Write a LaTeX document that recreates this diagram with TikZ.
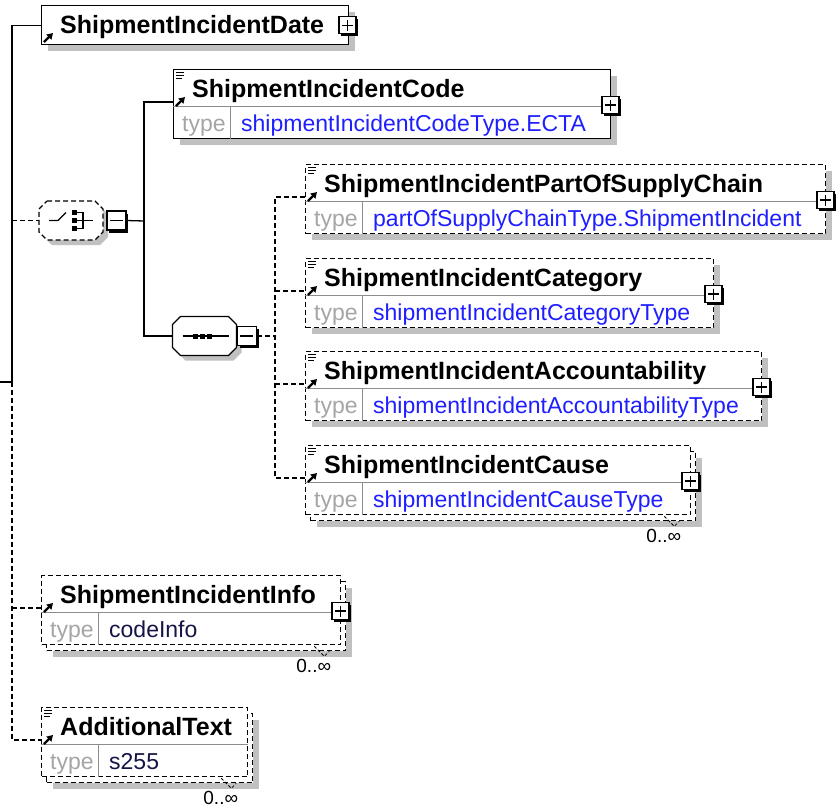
\documentclass[tikz,border=0pt]{standalone}
\usepackage{fontspec}
\setmainfont{Liberation Sans}
\usetikzlibrary{positioning,arrows.meta,shadows}

\definecolor{shadowgray}{RGB}{192,192,192}
\definecolor{typegray}{RGB}{165,165,165}
\definecolor{rulegray}{RGB}{140,140,140}
\definecolor{typeblue}{RGB}{30,30,255}
\definecolor{typenavy}{RGB}{20,20,70}

\tikzset{
  elbox/.style={draw,line width=1.3pt,fill=white,anchor=north west,inner sep=0pt,minimum height=69pt},
  shaded/.style={drop shadow={shadow xshift=6pt,shadow yshift=-6pt,fill=shadowgray,opacity=1}},
  optional/.style={dash pattern=on 5pt off 3pt},
  eltitle/.style={font=\bfseries\fontsize{25}{30}\selectfont,anchor=base west,inner sep=0pt},
  typelbl/.style={font=\fontsize{23}{28}\selectfont,text=typegray,anchor=base west,inner sep=0pt},
  typeval/.style={font=\fontsize{23}{28}\selectfont,anchor=base west,inner sep=0pt},
  rowline/.style={draw=rulegray,line width=1pt},
  link/.style={line width=1.3pt},
  icon/.style={line width=1.2pt},
  tick/.style={line width=0.8pt,dash pattern=on 3pt off 2pt},
  mult/.style={font=\fontsize{19}{23}\selectfont,anchor=north east,inner sep=0pt},
  octo/.style={rectangle,inner sep=0pt,minimum width=64pt,minimum height=39pt},
  pmframe/.style={draw,line width=1.5pt,fill=white,inner sep=0pt,
    drop shadow={shadow xshift=2.5pt,shadow yshift=-2.5pt,fill=black,opacity=1}},
  plusbox/.style={pmframe,minimum size=17pt,
    path picture={\draw[line width=1.3pt]
      ([xshift=3pt]path picture bounding box.west) -- ([xshift=-3pt]path picture bounding box.east)
      ([yshift=-3pt]path picture bounding box.north) -- ([yshift=3pt]path picture bounding box.south);}},
  minusbox/.style={pmframe,minimum size=19pt,
    path picture={\draw[line width=1.3pt]
      ([xshift=3pt]path picture bounding box.west) -- ([xshift=-3pt]path picture bounding box.east);}},
  octagon/.pic={
    \fill[shadowgray,solid] (-19,-14.5) -- (29,-14.5) -- (37,-6.5) -- (37,16.5) -- (29,24.5)
      -- (-19,24.5) -- (-27,16.5) -- cycle;
    \draw[line width=1.3pt,fill=white] (-24,-19.5) -- (24,-19.5) -- (32,-11.5) -- (32,11.5)
      -- (24,19.5) -- (-24,19.5) -- (-32,11.5) -- (-32,-11.5) -- cycle;},
  docmark/.pic={\draw[line width=0.9pt] (3,3) -- (11,3) (3,6) -- (11,6) (3,9) -- (9,9);},
  refmark/.pic={\draw[line width=2.4pt,-{Triangle[length=6pt,width=7pt]}] (3,37) -- (12,28);}
}

\begin{document}
\begin{tikzpicture}[x=1pt,y=-1pt]
\useasboundingbox (0,0) rectangle (837,809);

% element boxes
\node[elbox,shaded,minimum width=307pt,minimum height=39pt] (date) at (41,5) {};
\node[elbox,shaded,minimum width=437pt] (code) at (173,69) {};
\node[elbox,optional,shaded,minimum width=520pt] (part) at (305,164) {};
\node[elbox,optional,shaded,minimum width=408pt] (cat) at (305,258) {};
\node[elbox,optional,shaded,minimum width=456pt] (acc) at (305,351) {};
\node[elbox,optional,shaded,minimum width=385pt] (causeB) at (310,451) {};
\node[elbox,optional,minimum width=385pt] (cause) at (305,445) {};
\node[elbox,optional,shaded,minimum width=299pt] (infoB) at (46,581) {};
\node[elbox,optional,minimum width=299pt] (info) at (41,575) {};
\node[elbox,optional,shaded,minimum width=206pt] (addtextB) at (46,713) {};
\node[elbox,optional,minimum width=206pt] (addtext) at (41,707) {};

\node[eltitle] (date-title) at ([shift={(19,28)}]date.north west) {ShipmentIncidentDate};
\pic at (date.north west) {refmark};

% name and type rows
\foreach \nm/\ttl/\typ/\tcol in {
  code/ShipmentIncidentCode/shipmentIncidentCodeType.ECTA/typeblue,
  part/ShipmentIncidentPartOfSupplyChain/partOfSupplyChainType.ShipmentIncident/typeblue,
  cat/ShipmentIncidentCategory/shipmentIncidentCategoryType/typeblue,
  acc/ShipmentIncidentAccountability/shipmentIncidentAccountabilityType/typeblue,
  cause/ShipmentIncidentCause/shipmentIncidentCauseType/typeblue,
  info/ShipmentIncidentInfo/codeInfo/typenavy,
  addtext/AdditionalText/s255/typenavy}{
  \node[eltitle] (\nm-title) at ([shift={(19,28)}]\nm.north west) {\ttl};
  \node[typelbl] (\nm-type) at ([shift={(9,62)}]\nm.north west) {type};
  \node[typeval,text=\tcol] (\nm-val) at ([shift={(68,62)}]\nm.north west) {\typ};
  \draw[rowline] ([shift={(0,37)}]\nm.north west) -- ([shift={(0,37)}]\nm.north east)
    ([shift={(57,37)}]\nm.north west) -- ([shift={(57,0)}]\nm.south west);
  \pic at (\nm.north west) {refmark};
  \coordinate (\nm-in) at ([shift={(0,33)}]\nm.north west);
}
\foreach \nm in {code,part,cat,acc,cause,addtext}
  \pic at (\nm.north west) {docmark};

% expand buttons
\node[plusbox] (date-plus) at ([xshift=-2pt]date.east) {};
\foreach \nm in {code,part,cat,acc,cause,info}
  \node[plusbox] (\nm-plus) at ([shift={(-1,36)}]\nm.north east) {};

% occurrences
\foreach \nm in {causeB,infoB,addtextB}{
  \draw[tick] ([shift={(-32,-5)}]\nm.south east) -- ++(10,10) -- ++(5,-5);
  \node[mult] (\nm-occ) at ([shift={(-15,8)}]\nm.south east) {0..∞};
}

% compositors
\node[octo] (choice) at (71,220.5) {};
\pic[optional] at (choice.center) {octagon};
\node[minusbox,right=3pt of choice] (choiceM) {};
\node[octo] (seq) at (204.5,336) {};
\pic at (seq.center) {octagon};
\node[minusbox,right=0pt of seq] (seqM) {};

\draw[icon] ([shift={(-22,0)}]choice.center) -- ++(9,0) -- ++(8,-8);
\foreach \dy in {-8,0,8}
  \fill ([shift={(1,\dy-2.5)}]choice.center) rectangle ++(5,5);
\draw[icon] ([shift={(6,-8)}]choice.center) -| ([shift={(12,8)}]choice.center)
  -- ([shift={(6,8)}]choice.center);
\draw[icon] ([shift={(6,0)}]choice.center) -- ++(16,0);

\draw[icon] ([shift={(-22,0)}]seq.center) -- ([shift={(24,0)}]seq.center);
\foreach \dx in {-9,-2,5}
  \fill ([shift={(\dx-2.5,-2.5)}]seq.center) rectangle ++(5,5);

% connectors
\coordinate (root) at (0,382);
\coordinate (trunk) at (12,382);
\coordinate (fork) at (144,221);
\coordinate (seqbus) at (275,336);

\draw[link] (root) -- (trunk) |- (date.west);
\draw[link,optional] (trunk) |- (addtext-in);
\draw[link,optional] (trunk |- choice.west) -- (choice.west);
\draw[link,optional] (trunk |- info-in) -- (info-in);
\draw[link] (choiceM.east) -- (fork);
\draw[link] (code-in) -| (fork) |- (seq.west);
\draw[link,optional] (seqM.east) -- (seqbus);
\draw[link,optional] (part-in) -| (seqbus) |- (cause-in);
\draw[link,optional] (seqbus |- cat-in) -- (cat-in);
\draw[link,optional] (seqbus |- acc-in) -- (acc-in);
\end{tikzpicture}
\end{document}
